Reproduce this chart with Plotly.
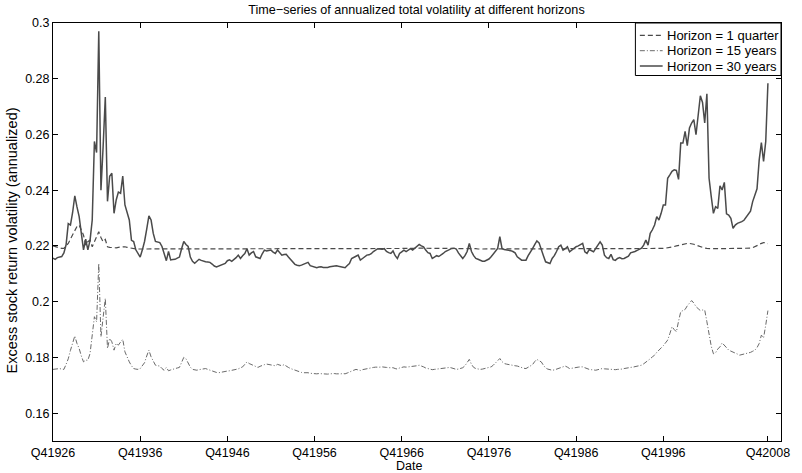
import plotly.graph_objects as go

# ---------------- data (quarterly, Q4 1926 ... Q4 2008) ----------------
h30 = [
    0.2156, 0.2152, 0.2158, 0.2160, 0.2162, 0.2175, 0.2204, 0.2280, 0.2275, 0.2320,
    0.2380, 0.2340, 0.2305, 0.2245, 0.2186, 0.2224, 0.2186, 0.2220, 0.2293, 0.2575,
    0.2535, 0.2970, 0.2400, 0.2557, 0.2734, 0.2360, 0.2450, 0.2461, 0.2317, 0.2365,
    0.2393, 0.2389, 0.2451, 0.2347, 0.2320, 0.2293, 0.2220, 0.2216, 0.2186, 0.2170,
    0.2160, 0.2186, 0.2216, 0.2260, 0.2308, 0.2293, 0.2245, 0.2216, 0.2214, 0.2212,
    0.2198, 0.2174, 0.2147, 0.2180, 0.2150, 0.2151, 0.2152, 0.2156, 0.2160, 0.2190,
    0.2216, 0.2205, 0.2198, 0.2160, 0.2145, 0.2138, 0.2145, 0.2152, 0.2148, 0.2144,
    0.2143, 0.2142, 0.2141, 0.2135, 0.2128, 0.2125, 0.2128, 0.2131, 0.2134, 0.2137,
    0.2147, 0.2150, 0.2145, 0.2150, 0.2158, 0.2167, 0.2155, 0.2165, 0.2173, 0.2190,
    0.2167, 0.2175, 0.2180, 0.2161, 0.2158, 0.2155, 0.2172, 0.2185, 0.2182, 0.2183,
    0.2185, 0.2178, 0.2173, 0.2185, 0.2175, 0.2167, 0.2169, 0.2170, 0.2160, 0.2152,
    0.2142, 0.2134, 0.2131, 0.2129, 0.2131, 0.2134, 0.2138, 0.2141, 0.2129, 0.2126,
    0.2123, 0.2122, 0.2124, 0.2125, 0.2123, 0.2122, 0.2123, 0.2125, 0.2126, 0.2128,
    0.2129, 0.2127, 0.2125, 0.2124, 0.2122, 0.2130, 0.2137, 0.2155, 0.2158, 0.2163,
    0.2167, 0.2149, 0.2155, 0.2162, 0.2167, 0.2168, 0.2172, 0.2180, 0.2186, 0.2190,
    0.2189, 0.2188, 0.2190, 0.2180, 0.2176, 0.2173, 0.2182, 0.2165, 0.2155, 0.2173,
    0.2179, 0.2185, 0.2180, 0.2186, 0.2190, 0.2185, 0.2192, 0.2197, 0.2205, 0.2200,
    0.2197, 0.2185, 0.2176, 0.2173, 0.2155, 0.2160, 0.2165, 0.2162, 0.2166, 0.2173,
    0.2180, 0.2184, 0.2189, 0.2191, 0.2192, 0.2189, 0.2175, 0.2163, 0.2155, 0.2165,
    0.2180, 0.2209, 0.2180, 0.2165, 0.2155, 0.2152, 0.2149, 0.2145, 0.2145, 0.2148,
    0.2153, 0.2161, 0.2172, 0.2182, 0.2191, 0.2233, 0.2191, 0.2187, 0.2186, 0.2185,
    0.2183, 0.2180, 0.2175, 0.2161, 0.2155, 0.2149, 0.2149, 0.2149, 0.2165, 0.2176,
    0.2190, 0.2205, 0.2218, 0.2211, 0.2185, 0.2165, 0.2143, 0.2140, 0.2137, 0.2155,
    0.2165, 0.2180, 0.2197, 0.2203, 0.2185, 0.2190, 0.2197, 0.2179, 0.2186, 0.2192,
    0.2197, 0.2200, 0.2205, 0.2209, 0.2179, 0.2173, 0.2187, 0.2182, 0.2179, 0.2191,
    0.2203, 0.2215, 0.2203, 0.2167, 0.2158, 0.2155, 0.2170, 0.2151, 0.2148, 0.2155,
    0.2158, 0.2154, 0.2155, 0.2158, 0.2163, 0.2175, 0.2177, 0.2180, 0.2184, 0.2188,
    0.2192, 0.2203, 0.2221, 0.2203, 0.2245, 0.2258, 0.2275, 0.2305, 0.2293, 0.2317,
    0.2347, 0.2347, 0.2443, 0.2455, 0.2468, 0.2473, 0.2471, 0.2439, 0.2569, 0.2569,
    0.2611, 0.2560, 0.2623, 0.2641, 0.2653, 0.2599, 0.2665, 0.2739, 0.2715, 0.2641,
    0.2746, 0.2443, 0.2377, 0.2317, 0.2341, 0.2335, 0.2416, 0.2401, 0.2428, 0.2315,
    0.2311, 0.2299, 0.2263, 0.2275, 0.2281, 0.2283, 0.2287, 0.2292, 0.2303, 0.2312,
    0.2325, 0.2359, 0.2380, 0.2405, 0.2509, 0.2571, 0.2503, 0.2575, 0.2784,
]

h1q = [
    0.2200, 0.2198, 0.2195, 0.2192, 0.2191, 0.2191, 0.2200, 0.2209, 0.2225, 0.2240,
    0.2257, 0.2270, 0.2275, 0.2255, 0.2239, 0.2203, 0.2215, 0.2221, 0.2197, 0.2215,
    0.2233, 0.2251, 0.2230, 0.2215, 0.2223, 0.2197, 0.2195, 0.2194, 0.2193, 0.2193,
    0.2195, 0.2196, 0.2197, 0.2197, 0.2195, 0.2193, 0.2191, 0.2190, 0.2189, 0.2189,
    0.2189, 0.2190, 0.2190, 0.2191, 0.2191, 0.2190, 0.2190, 0.2189, 0.2189, 0.2190,
    0.2190, 0.2190, 0.2191, 0.2190, 0.2190, 0.2189, 0.2189, 0.2190, 0.2190, 0.2190,
    0.2191, 0.2191, 0.2190, 0.2190, 0.2189, 0.2189, 0.2189, 0.2190, 0.2190, 0.2190,
    0.2190, 0.2190, 0.2189, 0.2189, 0.2189, 0.2189, 0.2189, 0.2190, 0.2190, 0.2190,
    0.2190, 0.2190, 0.2191, 0.2191, 0.2190, 0.2190, 0.2190, 0.2190, 0.2191, 0.2191,
    0.2190, 0.2190, 0.2190, 0.2190, 0.2190, 0.2189, 0.2190, 0.2190, 0.2191, 0.2190,
    0.2190, 0.2190, 0.2190, 0.2190, 0.2190, 0.2190, 0.2189, 0.2189, 0.2189, 0.2189,
    0.2189, 0.2189, 0.2189, 0.2189, 0.2189, 0.2189, 0.2189, 0.2189, 0.2189, 0.2189,
    0.2189, 0.2189, 0.2189, 0.2189, 0.2189, 0.2189, 0.2189, 0.2189, 0.2189, 0.2189,
    0.2189, 0.2189, 0.2189, 0.2189, 0.2189, 0.2189, 0.2189, 0.2190, 0.2190, 0.2190,
    0.2190, 0.2190, 0.2190, 0.2190, 0.2190, 0.2190, 0.2190, 0.2190, 0.2190, 0.2191,
    0.2191, 0.2191, 0.2191, 0.2190, 0.2190, 0.2190, 0.2190, 0.2190, 0.2190, 0.2190,
    0.2190, 0.2190, 0.2190, 0.2190, 0.2191, 0.2191, 0.2191, 0.2191, 0.2192, 0.2192,
    0.2191, 0.2191, 0.2190, 0.2190, 0.2190, 0.2190, 0.2190, 0.2190, 0.2190, 0.2190,
    0.2190, 0.2190, 0.2190, 0.2190, 0.2191, 0.2191, 0.2190, 0.2190, 0.2190, 0.2190,
    0.2190, 0.2191, 0.2190, 0.2190, 0.2190, 0.2189, 0.2189, 0.2189, 0.2189, 0.2189,
    0.2189, 0.2189, 0.2190, 0.2190, 0.2190, 0.2191, 0.2190, 0.2190, 0.2190, 0.2190,
    0.2190, 0.2190, 0.2190, 0.2190, 0.2189, 0.2189, 0.2189, 0.2189, 0.2189, 0.2190,
    0.2190, 0.2190, 0.2191, 0.2191, 0.2190, 0.2190, 0.2189, 0.2189, 0.2189, 0.2189,
    0.2189, 0.2190, 0.2190, 0.2190, 0.2190, 0.2190, 0.2190, 0.2190, 0.2190, 0.2190,
    0.2190, 0.2190, 0.2190, 0.2190, 0.2190, 0.2189, 0.2189, 0.2189, 0.2190, 0.2190,
    0.2190, 0.2191, 0.2190, 0.2190, 0.2189, 0.2189, 0.2189, 0.2189, 0.2189, 0.2189,
    0.2189, 0.2189, 0.2189, 0.2189, 0.2190, 0.2190, 0.2190, 0.2190, 0.2190, 0.2190,
    0.2190, 0.2190, 0.2190, 0.2190, 0.2190, 0.2190, 0.2190, 0.2190, 0.2190, 0.2191,
    0.2191, 0.2192, 0.2193, 0.2194, 0.2196, 0.2198, 0.2200, 0.2202, 0.2204, 0.2206,
    0.2208, 0.2209, 0.2209, 0.2208, 0.2206, 0.2203, 0.2200, 0.2197, 0.2194, 0.2192,
    0.2191, 0.2190, 0.2190, 0.2190, 0.2190, 0.2190, 0.2190, 0.2190, 0.2190, 0.2190,
    0.2190, 0.2190, 0.2190, 0.2190, 0.2190, 0.2190, 0.2190, 0.2190, 0.2190, 0.2191,
    0.2192, 0.2194, 0.2197, 0.2201, 0.2206, 0.2210, 0.2212, 0.2211, 0.2208,
]

h15 = [
    0.1757, 0.1758, 0.1760, 0.1760, 0.1758, 0.1757, 0.1775, 0.1795, 0.1825, 0.1855,
    0.1877, 0.1850, 0.1832, 0.1805, 0.1784, 0.1790, 0.1790, 0.1814, 0.1880, 0.1946,
    0.1928, 0.2137, 0.1874, 0.1952, 0.2012, 0.1832, 0.1868, 0.1856, 0.1826, 0.1850,
    0.1844, 0.1855, 0.1865, 0.1820, 0.1800, 0.1784, 0.1770, 0.1760, 0.1758, 0.1757,
    0.1760, 0.1770, 0.1781, 0.1805, 0.1826, 0.1802, 0.1785, 0.1772, 0.1770, 0.1769,
    0.1760, 0.1754, 0.1764, 0.1752, 0.1755, 0.1758, 0.1760, 0.1762, 0.1764, 0.1785,
    0.1800, 0.1795, 0.1781, 0.1765, 0.1757, 0.1755, 0.1754, 0.1756, 0.1757, 0.1758,
    0.1760, 0.1757, 0.1754, 0.1752, 0.1749, 0.1746, 0.1745, 0.1747, 0.1749, 0.1750,
    0.1751, 0.1752, 0.1753, 0.1755, 0.1757, 0.1759, 0.1762, 0.1766, 0.1775, 0.1784,
    0.1778, 0.1774, 0.1770, 0.1766, 0.1764, 0.1768, 0.1772, 0.1774, 0.1776, 0.1775,
    0.1774, 0.1772, 0.1770, 0.1775, 0.1772, 0.1770, 0.1774, 0.1768, 0.1764, 0.1760,
    0.1757, 0.1753, 0.1750, 0.1748, 0.1746, 0.1745, 0.1746, 0.1745, 0.1743, 0.1742,
    0.1741, 0.1741, 0.1742, 0.1741, 0.1740, 0.1741, 0.1740, 0.1741, 0.1742, 0.1742,
    0.1741, 0.1740, 0.1741, 0.1742, 0.1741, 0.1744, 0.1748, 0.1752, 0.1754, 0.1757,
    0.1756, 0.1753, 0.1756, 0.1758, 0.1760, 0.1760, 0.1762, 0.1764, 0.1765, 0.1764,
    0.1765, 0.1766, 0.1766, 0.1764, 0.1763, 0.1764, 0.1763, 0.1760, 0.1758, 0.1762,
    0.1764, 0.1766, 0.1765, 0.1766, 0.1767, 0.1766, 0.1768, 0.1770, 0.1772, 0.1770,
    0.1766, 0.1762, 0.1760, 0.1758, 0.1756, 0.1757, 0.1758, 0.1759, 0.1760, 0.1761,
    0.1762, 0.1763, 0.1764, 0.1762, 0.1758, 0.1757, 0.1758, 0.1761, 0.1763, 0.1770,
    0.1780, 0.1793, 0.1775, 0.1764, 0.1760, 0.1758, 0.1757, 0.1758, 0.1760, 0.1762,
    0.1764, 0.1766, 0.1772, 0.1780, 0.1788, 0.1796, 0.1785, 0.1778, 0.1776, 0.1774,
    0.1772, 0.1771, 0.1770, 0.1769, 0.1766, 0.1763, 0.1761, 0.1760, 0.1764, 0.1768,
    0.1774, 0.1785, 0.1793, 0.1788, 0.1784, 0.1772, 0.1762, 0.1758, 0.1756, 0.1754,
    0.1755, 0.1758, 0.1762, 0.1764, 0.1766, 0.1769, 0.1765, 0.1760, 0.1761, 0.1763,
    0.1764, 0.1765, 0.1766, 0.1766, 0.1763, 0.1759, 0.1757, 0.1756, 0.1755, 0.1754,
    0.1756, 0.1758, 0.1760, 0.1759, 0.1758, 0.1757, 0.1757, 0.1757, 0.1756, 0.1757,
    0.1757, 0.1758, 0.1760, 0.1762, 0.1763, 0.1764, 0.1765, 0.1767, 0.1768, 0.1769,
    0.1772, 0.1777, 0.1782, 0.1788, 0.1795, 0.1802, 0.1808, 0.1818, 0.1825, 0.1832,
    0.1842, 0.1852, 0.1862, 0.1885, 0.1910, 0.1900, 0.1892, 0.1930, 0.1964, 0.1968,
    0.1972, 0.1985, 0.1995, 0.2004, 0.1995, 0.1982, 0.1975, 0.1968, 0.1970, 0.1970,
    0.1928, 0.1886, 0.1840, 0.1813, 0.1817, 0.1830, 0.1838, 0.1852, 0.1845, 0.1835,
    0.1826, 0.1823, 0.1820, 0.1816, 0.1812, 0.1808, 0.1810, 0.1812, 0.1814, 0.1814,
    0.1818, 0.1822, 0.1826, 0.1835, 0.1850, 0.1880, 0.1870, 0.1916, 0.1968,
]

x_tick_pos = [0, 40, 80, 120, 160, 200, 240, 280, 328]
x_tick_labels = ["Q41926", "Q41936", "Q41946", "Q41956", "Q41966",
                 "Q41976", "Q41986", "Q41996", "Q42008"]
y_tick_vals = [0.16, 0.18, 0.20, 0.22, 0.24, 0.26, 0.28, 0.30]
y_tick_labels = ["0.16", "0.18", "0.2", "0.22", "0.24", "0.26", "0.28", "0.3"]
series_names = ["Horizon = 1 quarter", "Horizon = 15 years", "Horizon = 30 years"]

quarters = list(range(len(h30)))

FONT = "Liberation Sans, Arial, Helvetica, sans-serif"
W, H = 802, 473
ML, MR, MT, MB = 53, 14, 23, 32
PW, PH = W - ML - MR, H - MT - MB


def px(xp):   # pixel x -> paper x
    return (xp - ML) / PW


def py(yp):   # pixel y -> paper y
    return (H - MB - yp) / PH


styles = [
    dict(color="#4a4a4a", width=1.2, dash="5px,3px"),
    dict(color="#6a6a6a", width=1.0, dash="5px,2px,1px,2px"),
    dict(color="#4a4a4a", width=1.5),
]

fig = go.Figure()
for name, vals, st in zip(series_names, [h1q, h15, h30], styles):
    fig.add_trace(go.Scatter(x=quarters, y=vals, mode="lines", name=name,
                             line=st, showlegend=False))

# legend box (drawn to match the reference's compact legend)
shapes = [dict(type="rect", xref="paper", yref="paper",
               x0=px(641), x1=px(788), y0=py(75.5), y1=py(23),
               line=dict(color="black", width=1), fillcolor="white", layer="above")]
annotations = []
row_y = [35.4, 50.7, 66.0]
for name, st, ry in zip(series_names, styles, row_y):
    shapes.append(dict(type="line", xref="paper", yref="paper",
                       x0=px(645.5), x1=px(668.5), y0=py(ry), y1=py(ry),
                       line=st, layer="above"))
    annotations.append(dict(text=name, xref="paper", yref="paper",
                            x=px(670.5), y=py(ry), xanchor="left", yanchor="middle",
                            showarrow=False,
                            font=dict(family=FONT, size=13, color="black")))

annotations += [
    dict(text="Excess stock return volatility (annualized)", textangle=-90,
         xref="paper", yref="paper", x=px(12), y=py(240),
         xanchor="center", yanchor="middle", showarrow=False,
         font=dict(family=FONT, size=14.5, color="black")),
    dict(text="Date", xref="paper", yref="paper", x=px(412), y=py(466),
         xanchor="center", yanchor="middle", showarrow=False,
         font=dict(family=FONT, size=12.5, color="black")),
]

fig.update_layout(
    width=W, height=H,
    margin=dict(l=ML, r=MR, t=MT, b=MB),
    paper_bgcolor="white", plot_bgcolor="white",
    font=dict(family=FONT, size=12, color="black"),
    title=dict(text="Time\u2212series of annualized total volatility at different horizons",
               x=px(420), xref="paper", y=1 - 10 / H, yref="container",
               xanchor="center", yanchor="middle",
               font=dict(family=FONT, size=12.6, color="black")),
    showlegend=False,
    xaxis=dict(range=[0, 334], tickmode="array", tickvals=x_tick_pos,
               ticktext=x_tick_labels, ticks="inside", ticklen=5,
               tickcolor="black", showline=True, linecolor="black", linewidth=1,
               mirror="ticks", showgrid=False, zeroline=False,
               tickfont=dict(family=FONT, size=12.5)),
    yaxis=dict(range=[0.15, 0.30], tickmode="array", tickvals=y_tick_vals,
               ticktext=y_tick_labels, ticks="inside", ticklen=5,
               tickcolor="black", showline=True, linecolor="black", linewidth=1,
               mirror="ticks", showgrid=False, zeroline=False,
               tickfont=dict(family=FONT, size=12.5)),
    shapes=shapes,
    annotations=annotations,
)

fig.write_html("out.html")
